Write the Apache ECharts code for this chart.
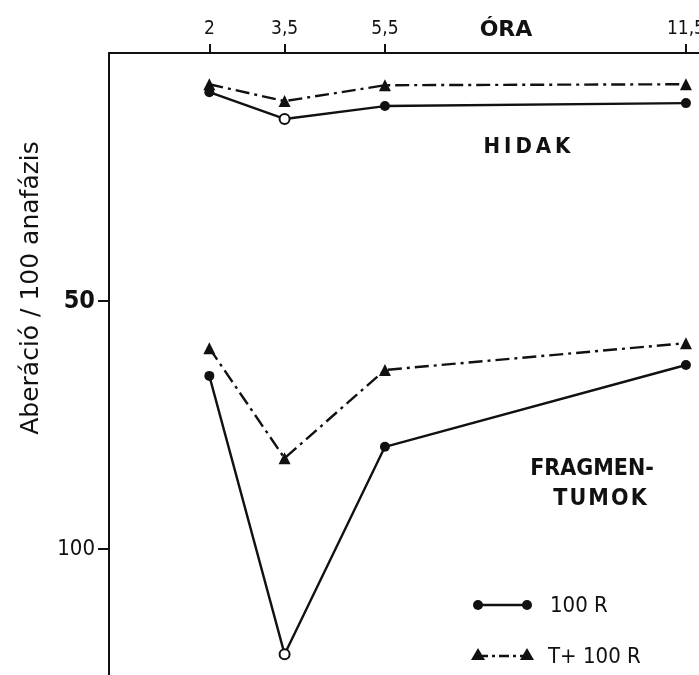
<!DOCTYPE html>
<html><head><meta charset="utf-8">
<script src="https://cdn.jsdelivr.net/npm/echarts@6/dist/echarts.min.js"></script>
<style>html,body{margin:0;padding:0;background:#fff;overflow:hidden}#c{width:699px;height:675px}</style>
</head><body><div id="c"></div>
<script>
const hours = [2, 3.5, 5.5, 11.5];
const xTickLabels = ['2', '3,5', '5,5', '11,5'];
const yTicks = [50, 100];
const hidak100R = [7.9, 13.3, 10.7, 10.1];
const hidakT100R = [6.3, 9.7, 6.5, 6.3];
const frag100R = [65.1, 121.2, 79.4, 62.9];
const fragT100R = [59.5, 81.7, 63.9, 58.5];

const chart = echarts.init(document.getElementById('c'), null, {renderer: 'canvas', width: 699, height: 675});
const ink = '#111';
const cond = '"DejaVu Sans Condensed", "DejaVu Sans"';
const solidStyle = {color: ink, width: 2.4, type: 'solid'};
const dashDot = {color: ink, width: 2.4, type: [14, 5, 3, 5]};

function pts(vals, hollowIdx) {
  return vals.map((v, i) => {
    const d = {value: [hours[i], v]};
    if (i === hollowIdx) d.itemStyle = {color: '#fff', borderColor: ink, borderWidth: 2};
    return d;
  });
}
function line(name, vals, style, symbol, size, hollowIdx) {
  return {
    type: 'line', name, data: pts(vals, hollowIdx), symbol, symbolSize: size,
    lineStyle: style, itemStyle: {color: ink}, showSymbol: true, animation: false, z: 3
  };
}

const xLabelMap = {};
hours.forEach((h, i) => xLabelMap[h] = xTickLabels[i]);

chart.setOption({
  backgroundColor: '#fff',
  animation: false,
  grid: {left: 109, width: 592, top: 53, bottom: 0, containLabel: false, outerBoundsMode: 'none'},
  xAxis: {
    type: 'value', position: 'top', min: 0, max: 11.8,
    axisLine: {show: true, lineStyle: {color: ink, width: 2}},
    axisTick: {show: true, customValues: hours, length: 9, inside: false, lineStyle: {color: ink, width: 2}},
    axisLabel: {show: true, customValues: hours, margin: 14, fontSize: 19, color: ink,
      fontFamily: cond, formatter: v => xLabelMap[v] || ''},
    splitLine: {show: false}
  },
  yAxis: {
    type: 'value', inverse: true, min: 0, max: 125.4,
    axisLine: {show: true, lineStyle: {color: ink, width: 2}},
    axisTick: {show: true, customValues: yTicks, length: 11, lineStyle: {color: ink, width: 2}},
    axisLabel: {show: true, customValues: yTicks, margin: 14, color: ink, fontFamily: cond,
      formatter: v => (v === 50 ? '{b|' + v + '}' : '{n|' + v + '}'),
      rich: {b: {fontSize: 25, fontWeight: 'bold', fontFamily: cond, color: ink},
             n: {fontSize: 22, fontFamily: cond, color: ink}}},
    splitLine: {show: false}
  },
  series: [
    line('100 R', hidak100R, solidStyle, 'circle', 10, 1),
    line('T+ 100 R', hidakT100R, dashDot, 'triangle', 12),
    line('100 R', frag100R, solidStyle, 'circle', 10, 1),
    line('T+ 100 R', fragT100R, dashDot, 'triangle', 12)
  ],
  graphic: [
    {type: 'text', x: 31, y: 288, rotation: Math.PI / 2,
      style: {text: 'Aberáció / 100 anafázis', fill: ink, fontSize: 25, fontFamily: '"DejaVu Sans"',
        align: 'center', verticalAlign: 'middle'}},
    {type: 'text', x: 506, y: 30, style: {text: 'ÓRA', fill: ink, fontSize: 22, fontWeight: 'bold',
      fontFamily: '"DejaVu Sans"', align: 'center', verticalAlign: 'middle'}},
    {type: 'text', x: 527, y: 147, style: {text: 'H\u2009I\u2009D\u2009A\u2009K', fill: ink, fontSize: 22, fontWeight: 'bold',
      fontFamily: cond, align: 'center', verticalAlign: 'middle'}},
    {type: 'text', x: 592, y: 469, style: {text: 'FRAGMEN-', fill: ink, fontSize: 23, fontWeight: 'bold',
      fontFamily: cond, align: 'center', verticalAlign: 'middle'}},
    {type: 'text', x: 600, y: 499, style: {text: 'T\u200aU\u200aM\u200aO\u200aK', fill: ink, fontSize: 23, fontWeight: 'bold',
      fontFamily: cond, align: 'center', verticalAlign: 'middle'}},
    {type: 'line', shape: {x1: 478, y1: 605, x2: 527, y2: 605}, style: {stroke: ink, lineWidth: 2.4}},
    {type: 'circle', shape: {cx: 478, cy: 605, r: 5}, style: {fill: ink}},
    {type: 'circle', shape: {cx: 527, cy: 605, r: 5}, style: {fill: ink}},
    {type: 'text', x: 550, y: 606, style: {text: '100 R', fill: ink, fontSize: 22,
      fontFamily: cond, align: 'left', verticalAlign: 'middle'}},
    {type: 'line', shape: {x1: 478, y1: 656, x2: 527, y2: 656}, style: {stroke: ink, lineWidth: 2.4, lineDash: [10, 4, 3, 4]}},
    {type: 'polygon', shape: {points: [[471, 660], [485, 660], [478, 648]]}, style: {fill: ink}},
    {type: 'polygon', shape: {points: [[520, 660], [534, 660], [527, 648]]}, style: {fill: ink}},
    {type: 'text', x: 548, y: 657, style: {text: 'T+ 100 R', fill: ink, fontSize: 22,
      fontFamily: cond, align: 'left', verticalAlign: 'middle'}}
  ]
});
</script></body></html>
